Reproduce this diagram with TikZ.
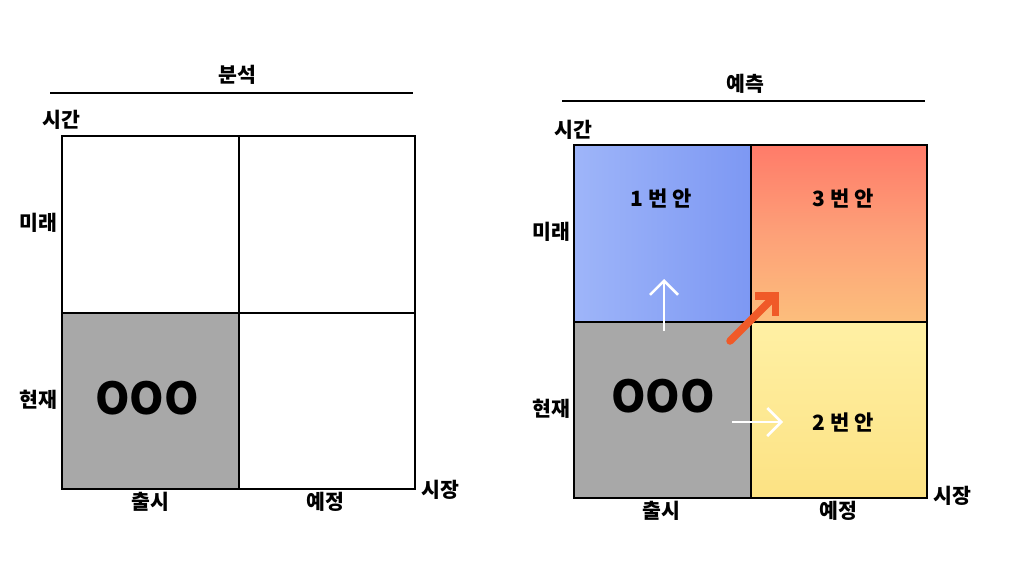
\documentclass[tikz,border=0pt]{standalone}
\usepackage{fontspec}
\setmainfont{Noto Sans CJK KR}
\usetikzlibrary{arrows.meta}
\definecolor{gridgray}{HTML}{A8A8A8}
\definecolor{blueL}{HTML}{9EB5F9}
\definecolor{blueR}{HTML}{7D98F3}
\definecolor{redT}{HTML}{FF7B69}
\definecolor{redM}{HTML}{FDA078}
\definecolor{redB}{HTML}{FCBE7C}
\definecolor{yelT}{HTML}{FFF0A4}
\definecolor{yelB}{HTML}{FCE283}
\definecolor{arrOr}{HTML}{F05A28}
\tikzset{
  quad/.style={draw=none, minimum width=176.5pt, minimum height=176.5pt, inner sep=0pt},
  head/.style={font=\bfseries\fontsize{20.5}{22}\selectfont},
  axis/.style={font=\bfseries\fontsize{20.5}{22}\selectfont},
  big/.style={font=\bfseries\fontsize{44}{48}\selectfont},
  opt/.style={font=\bfseries\fontsize{21}{23}\selectfont},
  rule/.style={line width=1.8pt},
  gridline/.style={line width=2pt},
  warr/.style={white, line width=2.5pt, -{Straight Barb[length=14pt,width=28pt]}},
  oarr/.style={arrOr, line width=7.5pt, line cap=round, -{Straight Barb[length=14pt,width=28pt]}}
}
\begin{document}
\begin{tikzpicture}[x=1pt,y=-1pt]
\useasboundingbox[fill=white] (0,0) rectangle (1024,576);
% ---------- left panel ----------
\node[head] (h1) at (237,75) {분석};
\coordinate (l1a) at (50,93);
\coordinate (l1b) at (413,93);
\draw[rule] (l1a) -- (l1b);
\node[quad, fill=white] (a11) at (150.25,224.25) {};
\node[quad, fill=white] (a12) at (326.75,224.25) {};
\node[quad, fill=gridgray] (a21) at (150.25,400.75) {};
\node[quad, fill=white] (a22) at (326.75,400.75) {};
\draw[gridline] (a11.north west) rectangle (a22.south east);
\draw[gridline] (a11.north east) -- (a21.south east);
\draw[gridline] (a11.south west) -- (a12.south east);
\node[big] (ooo1) at (147,398) {OOO};
\node[axis] (t1) at (61,120) {시간};
\node[axis] (f1) at (38,223) {미래};
\node[axis] (p1) at (38,400) {현재};
\node[axis] (c1) at (150,502) {출시};
\node[axis] (e1) at (325,502) {예정};
\node[axis] (m1) at (440,490) {시장};
% ---------- right panel ----------
\node[head] (h2) at (745,84) {예측};
\coordinate (l2a) at (562,101);
\coordinate (l2b) at (925,101);
\draw[rule] (l2a) -- (l2b);
\node[quad, left color=blueL, right color=blueR] (b11) at (662.25,233.25) {};
\node[quad, top color=redT, bottom color=redB, middle color=redM] (b12) at (838.75,233.25) {};
\node[quad, fill=gridgray] (b21) at (662.25,409.75) {};
\node[quad, top color=yelT, bottom color=yelB] (b22) at (838.75,409.75) {};
\draw[gridline] (b11.north west) rectangle (b22.south east);
\draw[gridline] (b11.north east) -- (b21.south east);
\draw[gridline] (b11.south west) -- (b12.south east);
\node[opt] (o1) at (661,198) {1 번 안};
\node[opt] (o3) at (843,198) {3 번 안};
\node[opt] (o2) at (843,422) {2 번 안};
\node[big] (ooo2) at (663,396) {OOO};
\node[axis] (t2) at (573,130) {시간};
\node[axis] (f2) at (551,232) {미래};
\node[axis] (p2) at (551,409) {현재};
\node[axis] (c2) at (661,511) {출시};
\node[axis] (e2) at (838,511) {예정};
\node[axis] (m2) at (952,496) {시장};
% arrows
\coordinate (u0) at (664,331);
\coordinate (u1) at (664,279);
\draw[warr] (u0) -- (u1);
\coordinate (r0) at (732,422);
\coordinate (r1) at (783,422);
\draw[warr] (r0) -- (r1);
\coordinate (d0) at (730,341);
\coordinate (d1) at (779,292);
\draw[oarr] (d0) -- (d1);
\end{tikzpicture}
\end{document}
